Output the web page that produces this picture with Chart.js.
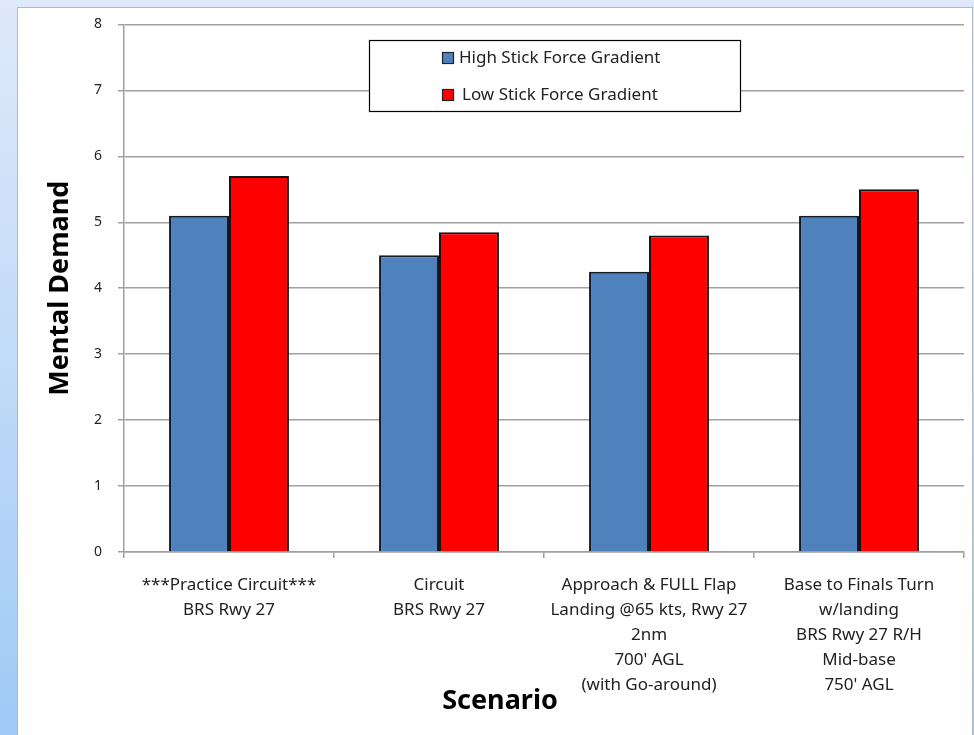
<!DOCTYPE html>
<html>
<head>
<meta charset="utf-8">
<script src="https://cdn.jsdelivr.net/npm/chart.js@4"></script>
<style>
    html, body { margin: 0; padding: 0; }
    body {
        width: 974px; height: 735px; overflow: hidden; position: relative;
        background: linear-gradient(180deg, #dfe9fa 0%, #c4dcf8 45%, #9fcaf6 100%);
    }
    #frame {
        position: absolute; left: 17px; top: 7px; width: 954px; height: 740px;
        background: #fff; border: 1px solid #b8b8b8;
    }
    #chart { position: absolute; left: 0; top: 0; }
</style>
</head>
<body>
<div id="frame"></div>
<canvas id="chart" width="974" height="735"></canvas>
<script>
// 数据
const scenarios = [
    ['***Practice Circuit***', 'BRS Rwy 27'],
    ['Circuit', 'BRS Rwy 27'],
    ['Approach & FULL Flap', 'Landing @65 kts, Rwy 27', '2nm', "700' AGL", '(with Go-around)'],
    ['Base to Finals Turn', 'w/landing', 'BRS Rwy 27 R/H', 'Mid-base', "750' AGL"]
];
const seriesNames = ['High Stick Force Gradient', 'Low Stick Force Gradient'];
const highGradient = [5.1, 4.5, 4.25, 5.1];
const lowGradient = [5.7, 4.85, 4.8, 5.5];
const yMin = 0, yMax = 8, yStep = 1;

const FONT = '"Noto Sans", "DejaVu Sans", sans-serif';
const GRID = '#a0a0a0';

// 图例（在绘图区内带边框）
const boxLegend = {
    id: 'boxLegend',
    afterDraw(chart) {
        const ctx = chart.ctx;
        const x = 369.5, y = 40.5, w = 371, h = 71;
        ctx.save();
        ctx.fillStyle = '#fff';
        ctx.fillRect(x, y, w, h);
        ctx.strokeStyle = '#000';
        ctx.lineWidth = 1.2;
        ctx.strokeRect(x, y, w, h);
        ctx.font = '17px ' + FONT;
        ctx.textBaseline = 'middle';
        chart.data.datasets.forEach((ds, i) => {
            const cy = 58 + i * 37;
            ctx.fillStyle = ds.backgroundColor;
            ctx.fillRect(442.5, cy - 5.5, 11, 11);
            ctx.strokeStyle = '#222';
            ctx.strokeRect(442.5, cy - 5.5, 11, 11);
            ctx.fillStyle = '#222';
            ctx.fillText(ds.label, 459 + i * 3, cy);
        });
        ctx.restore();
    }
};

new Chart(document.getElementById('chart'), {
    type: 'bar',
    data: {
        labels: scenarios,
        datasets: [
            {
                label: seriesNames[0],
                data: highGradient,
                backgroundColor: '#4f81bd',
                borderColor: '#151a22',
                borderWidth: 2,
                categoryPercentage: 0.571,
                barPercentage: 1
            },
            {
                label: seriesNames[1],
                data: lowGradient,
                backgroundColor: '#ff0000',
                borderColor: '#151515',
                borderWidth: 2,
                categoryPercentage: 0.571,
                barPercentage: 1
            }
        ]
    },
    options: {
        responsive: false,
        animation: false,
        layout: { padding: { left: 36, right: 10, top: 22, bottom: 0 } },
        plugins: {
            legend: { display: false },
            tooltip: { enabled: false },
            title: {
                display: true,
                position: 'bottom',
                text: 'Scenario',
                color: '#000',
                font: { family: FONT, size: 27, weight: 'bold', lineHeight: 1.2 },
                padding: { top: -20, bottom: 17 }
            }
        },
        scales: {
            x: {
                grid: { display: true, drawOnChartArea: false, drawTicks: true, tickLength: 6, color: GRID, lineWidth: 1.5, offset: true },
                border: { display: true, color: GRID, width: 1.5 },
                ticks: {
                    autoSkip: false, maxRotation: 0, minRotation: 0,
                    color: '#222', padding: 15,
                    font: { family: FONT, size: 17, lineHeight: '25px' }
                },
                afterFit(scale) { scale.height = 153.6; }
            },
            y: {
                min: yMin, max: yMax,
                ticks: {
                    stepSize: yStep, color: '#222', padding: 16,
                    font: { family: FONT, size: 14 }
                },
                grid: { color: GRID, lineWidth: 1.5, tickLength: 6 },
                border: { display: true, color: GRID, width: 1.5 },
                title: {
                    display: true,
                    text: 'Mental Demand',
                    color: '#000',
                    font: { family: FONT, size: 27, weight: 'bold', lineHeight: 1.2 },
                    padding: { top: 8, bottom: 0 }
                },
                afterFit(scale) { scale.width = 88; }
            }
        }
    },
    plugins: [boxLegend]
});
</script>
</body>
</html>
